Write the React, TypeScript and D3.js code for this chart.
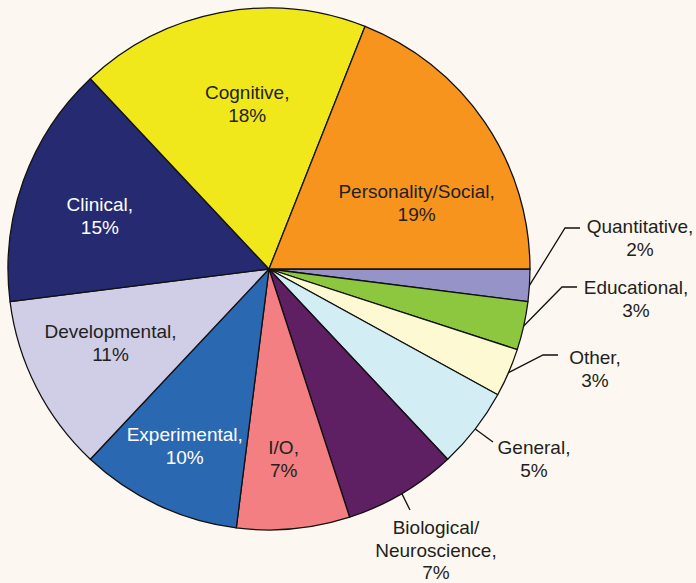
import React from "react";
import * as d3 from "d3";

// ---------- Data ----------
const fields = [
  "Quantitative",
  "Educational",
  "Other",
  "General",
  "Biological/Neuroscience",
  "I/O",
  "Experimental",
  "Developmental",
  "Clinical",
  "Cognitive",
  "Personality/Social",
];
const shares = [2, 3, 3, 5, 7, 7, 10, 11, 15, 18, 19];
const labelLines = [
  ["Quantitative,", "2%"],
  ["Educational,", "3%"],
  ["Other,", "3%"],
  ["General,", "5%"],
  ["Biological/", "Neuroscience,", "7%"],
  ["I/O,", "7%"],
  ["Experimental,", "10%"],
  ["Developmental,", "11%"],
  ["Clinical,", "15%"],
  ["Cognitive,", "18%"],
  ["Personality/Social,", "19%"],
];

const colors: Record<string, string> = {
  Quantitative: "#9593c8",
  Educational: "#8dc63f",
  Other: "#fdf9d2",
  General: "#d3edf4",
  "Biological/Neuroscience": "#5e1f63",
  "I/O": "#f47f82",
  Experimental: "#2b68b2",
  Developmental: "#d0cde7",
  Clinical: "#262a70",
  Cognitive: "#f1e81c",
  "Personality/Social": "#f7941e",
};
const whiteText = new Set(["Clinical", "Experimental"]);

// label placement (inside: radius factor + angle nudge in degrees)
const insideLayout: Record<string, { k: number; da: number }> = {
  "I/O": { k: 0.73, da: 1 },
  Experimental: { k: 0.75, da: 0.3 },
  Developmental: { k: 0.67, da: 2 },
  Clinical: { k: 0.68, da: -2.2 },
  Cognitive: { k: 0.64, da: 3.3 },
  "Personality/Social": { k: 0.62, da: 10 },
};
// outside: elbow & tail end & text anchor, relative to centre
const outsideLayout: Record<
  string,
  { elbow: [number, number]; tail: number; text: [number, number]; gap: number }
> = {
  Quantitative: { elbow: [296, -41], tail: 15, text: [371, -36], gap: 23 },
  Educational: { elbow: [293, 18], tail: 15, text: [367, 25], gap: 23 },
  Other: { elbow: [274, 86], tail: 15, text: [326, 95], gap: 23 },
  General: { elbow: [224, 173], tail: 0, text: [265, 185], gap: 23 },
  "Biological/Neuroscience": { elbow: [141, 241], tail: 0, text: [167, 265], gap: 22.5 },
};

const W = 696;
const H = 583;
const cx = 269;
const cy = 269;
const R = 261;
const lineH = 23;

type Datum = { name: string; value: number; lines: string[] };

const App: React.FC = () => {
  const data: Datum[] = fields.map((name, i) => ({
    name,
    value: shares[i],
    lines: labelLines[i],
  }));

  const pie = d3
    .pie<Datum>()
    .sort(null)
    .value((d) => d.value)
    .startAngle(Math.PI / 2)
    .endAngle(Math.PI / 2 + Math.PI * 2);
  const arcs = pie(data);
  const arc = d3.arc<d3.PieArcDatum<Datum>>().innerRadius(0).outerRadius(R);

  const polar = (angle: number, r: number): [number, number] => [
    Math.sin(angle) * r,
    -Math.cos(angle) * r,
  ];

  return (
    <div style={{ position: "fixed", left: 0, top: 0 }}>
      <svg
        width={W}
        height={H}
        style={{ display: "block", background: "#fcf7f1" }}
        fontFamily="'Liberation Sans', Arial, sans-serif"
        fontSize={19}
      >
        <g transform={`translate(${cx},${cy})`}>
          {arcs.map((a) => (
            <path
              key={a.data.name}
              d={arc(a) || ""}
              fill={colors[a.data.name]}
              stroke="#111"
              strokeWidth={1.3}
              strokeLinejoin="round"
            />
          ))}

          {arcs.map((a) => {
            const mid = (a.startAngle + a.endAngle) / 2;
            const inside = insideLayout[a.data.name];
            const fill = whiteText.has(a.data.name) ? "#ffffff" : "#231f20";
            if (inside) {
              const [x, y] = polar(mid + (inside.da * Math.PI) / 180, R * inside.k);
              const n = a.data.lines.length;
              return (
                <text
                  key={"t" + a.data.name}
                  x={x}
                  y={y}
                  textAnchor="middle"
                  fill={fill}
                >
                  {a.data.lines.map((l, i) => (
                    <tspan
                      key={i}
                      x={x}
                      y={y + (i - (n - 1) / 2) * lineH + 7}
                    >
                      {l}
                    </tspan>
                  ))}
                </text>
              );
            }
            const o = outsideLayout[a.data.name];
            const [sx, sy] = polar(mid, R);
            const [ex, ey] = o.elbow;
            const pts: [number, number][] = [
              [sx, sy],
              [ex, ey],
            ];
            if (o.tail) pts.push([ex + o.tail, ey]);
            const line = d3.line();
            return (
              <g key={"o" + a.data.name}>
                <path d={line(pts) || ""} fill="none" stroke="#111" strokeWidth={1.3} />
                <text textAnchor="middle" fill="#231f20">
                  {a.data.lines.map((l, i) => (
                    <tspan key={i} x={o.text[0]} y={o.text[1] + i * o.gap}>
                      {l}
                    </tspan>
                  ))}
                </text>
              </g>
            );
          })}
        </g>
      </svg>
    </div>
  );
};

export default App;
